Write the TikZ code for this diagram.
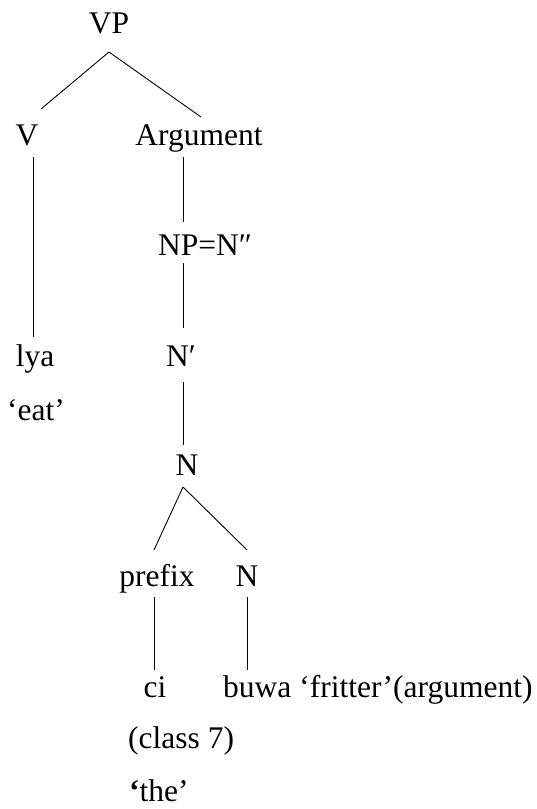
\documentclass[tikz,border=0pt]{standalone}
\usepackage{fontspec}
\setmainfont{Liberation Serif}
\usepackage{tikz}
\usetikzlibrary{positioning, calc}

\begin{document}
\begin{tikzpicture}[x=1pt, y=1pt,
    every node/.style={font=\fontsize{31.5}{36}\selectfont, inner sep=0pt, anchor=base},
    branch/.style={line width=0.9pt}]
  \useasboundingbox (0,0) rectangle (537,-809);
  % nodes
  \node (vp) at (109,-33) {VP};
  \node (v) at (27,-145) {V};
  \node (arg) at (199,-145) {Argument};
  \node (np) at (205,-255) {NP=N″};
  \node (lya) at (35,-366) {lya};
  \node (nbar) at (181,-366) {N′};
  \node (eat) at (36,-420) {‘eat’};
  \node (n) at (187,-475) {N};
  \node (prefix) at (157,-586) {prefix};
  \node (nstem) at (247,-586) {N};
  \node (ci) at (155,-697) {ci};
  \node[anchor=base west] (buwa) at (223,-697) {buwa ‘fritter’(argument)};
  \node[anchor=base west] (class) at (128,-748) {(class 7)};
  \node[anchor=base west] (the) at (129,-801) {{\bfseries ‘}the’};
  % branches
  \draw[branch] ([shift={(0,-19)}]vp.base) -- ([shift={(14,36)}]v.base);
  \draw[branch] ([shift={(0,-19)}]vp.base) -- ([shift={(2,28)}]arg.base);
  \draw[branch] ([shift={(6,-12)}]v.base) -- ([shift={(-2,29)}]lya.base);
  \draw[branch] ([shift={(-16,-12)}]arg.base) -- ([shift={(-22,33)}]np.base);
  \draw[branch] ([shift={(-22,-8)}]np.base) -- ([shift={(2,38)}]nbar.base);
  \draw[branch] ([shift={(2,-16)}]nbar.base) -- ([shift={(-4,30)}]n.base);
  \draw[branch] ([shift={(-4,-12)}]n.base) -- ([shift={(-3,36)}]prefix.base);
  \draw[branch] ([shift={(-4,-12)}]n.base) -- ([shift={(0,36)}]nstem.base);
  \draw[branch] ([shift={(-3,-11)}]prefix.base) -- ([shift={(-1,27)}]ci.base);
  \draw[branch] ([shift={(0,-11)}]nstem.base) -- ([shift={(24,27)}]buwa.base west);
\end{tikzpicture}
\end{document}
